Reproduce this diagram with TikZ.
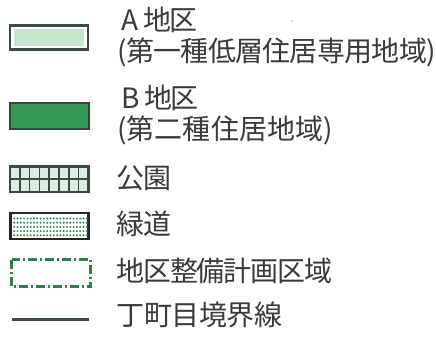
\documentclass[tikz,border=0pt]{standalone}
\usepackage{fontspec}
\setmainfont{Noto Sans CJK JP}
\newfontfamily\jpfont{Noto Sans CJK JP}
\newlength\kw
\newcommand\kb[1]{\makebox[\kw][c]{#1}}
\definecolor{txt}{HTML}{3A3A3A}
\definecolor{frame}{HTML}{3E4944}
\definecolor{lightg}{HTML}{C6E5CC}
\definecolor{darkg}{HTML}{34995A}
\definecolor{parkc}{HTML}{DCEDE2}
\definecolor{dotg}{HTML}{2E8A4A}
\definecolor{bound}{HTML}{2F7F48}
\tikzset{
  lbl/.style={inner sep=0pt, outer sep=0pt, anchor=west, text=txt, font=\jpfont\fontsize{28pt}{32pt}\selectfont},
}
\begin{document}
\begin{tikzpicture}[x=1pt,y=-1pt]
\useasboundingbox[fill=white] (0,0) rectangle (436,338);
% A district
\draw[frame, line width=2.8pt] (10,25.5) rectangle (88,49.5);
\fill[lightg] (13.8,29.3) rectangle (84.2,45.7);
% B district
\fill[darkg] (10,103) rectangle (89,129);
\draw[frame!90!black, line width=1.5pt] (10,103) rectangle (89,129);
% park
\fill[parkc] (10,166.5) rectangle (88.5,192);
\foreach \i in {1,...,7} {\draw[frame, line width=1.6pt] ({10+\i*78.5/8},166.5) -- ({10+\i*78.5/8},192);}
\draw[frame, line width=1.6pt] (10,179.25) -- (88.5,179.25);
\draw[frame, line width=2.4pt] (10,166.5) rectangle (88.5,192);
% green way
\draw[black!85, line width=2.8pt] (10.5,213) rectangle (88.5,239);
\foreach \r in {0,...,4} {\foreach \c in {0,...,22} {\fill[dotg] ({14.2+\c*3.3},{218.5+\r*4.2}) circle (1.1pt);}}
% boundary
\draw[bound, line width=2.6pt, dash pattern=on 9pt off 3pt on 2pt off 3pt] (11.5,259.5) rectangle (90.5,286.5);
% town boundary line
\draw[frame, line width=3pt] (12,319) -- (89,319);
% stray speck
\fill[gray!70] (292,21) circle (0.9pt);
% labels
\node[lbl] (ta1) at (121,20) {\setlength\kw{26pt}A\ \kb{地}\kb{区}};
\node[lbl] (ta2) at (117,52) {\setlength\kw{27.3pt}(\kb{第}\kb{一}\kb{種}\kb{低}\kb{層}\kb{住}\kb{居}\kb{専}\kb{用}\kb{地}\kb{域})};
\node[lbl] (tb1) at (121,98) {\setlength\kw{26pt}B\ \kb{地}\kb{区}};
\node[lbl] (tb2) at (117,130) {\setlength\kw{28.2pt}(\kb{第}\kb{二}\kb{種}\kb{住}\kb{居}\kb{地}\kb{域})};
\node[lbl] (tp) at (117,178) {\setlength\kw{27pt}\kb{公}\kb{園}};
\node[lbl] (tg) at (117,224) {\setlength\kw{27pt}\kb{緑}\kb{道}};
\node[lbl] (td) at (117,271) {\setlength\kw{26.8pt}\kb{地}\kb{区}\kb{整}\kb{備}\kb{計}\kb{画}\kb{区}\kb{域}};
\node[lbl] (tl) at (117,315) {\setlength\kw{27.5pt}\kb{丁}\kb{町}\kb{目}\kb{境}\kb{界}\kb{線}};
\end{tikzpicture}
\end{document}
